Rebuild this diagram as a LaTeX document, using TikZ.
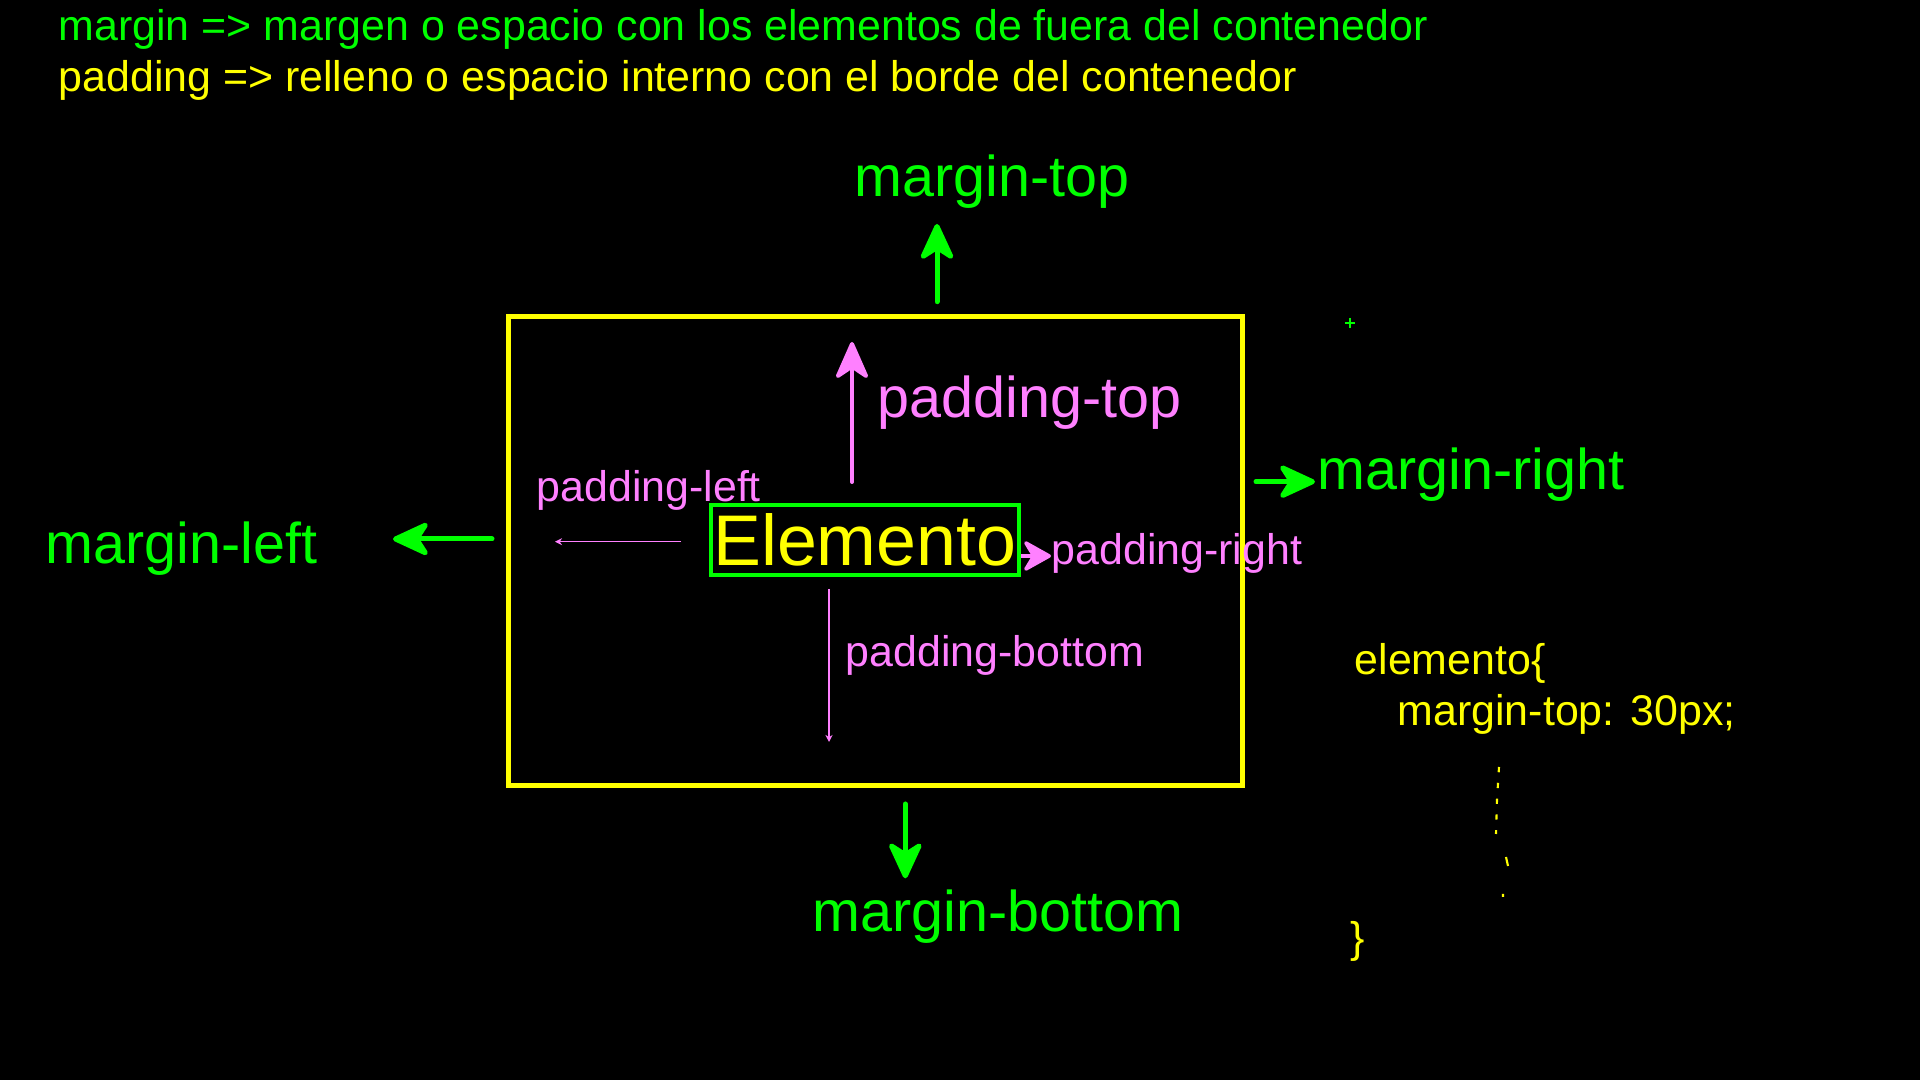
\documentclass[tikz,border=0pt]{standalone}
\usepackage{fontspec}
\setmainfont{Liberation Sans}
\usetikzlibrary{arrows.meta}
\definecolor{verde}{RGB}{0,255,0}
\definecolor{amarillo}{RGB}{255,255,0}
\definecolor{rosa}{RGB}{255,128,255}
\newcommand{\grande}{\fontsize{16.35}{19}\selectfont}
\newcommand{\mediano}{\fontsize{12.2}{14}\selectfont}

\begin{document}
\begin{tikzpicture}[x=0.01cm,y=-0.01cm,
    txt/.style={anchor=base west,inner sep=0pt},
    flechaM/.style={verde,line width=1.42pt,line cap=round,-{Stealth[length=12pt,width=11pt,inset=3.5pt,round]}},
    flechaP/.style={rosa,line width=1.14pt,line cap=round,-{Stealth[length=12pt,width=10.5pt,inset=3.5pt,round]}},
    flechita/.style={rosa,line width=0.45pt,-{Stealth[length=2pt,width=2pt]}}]
    \fill[black] (0,0) rectangle (1920,1080);
    % definiciones
    \node[txt,verde,font=\mediano] (defmargin) at (58,40.7) {margin => margen o espacio con los elementos de fuera del contenedor};
    \node[txt,amarillo,font=\mediano] (defpadding) at (58,91.7) {padding => relleno o espacio interno con el borde del contenedor};
    % caja
    \node[draw=amarillo,line width=1.42pt,minimum width=7.33cm,minimum height=4.68cm,inner sep=0pt] (contenedor) at (875.5,551) {};
    \node[draw=verde,text=amarillo,line width=1.14pt,font=\fontsize{20.4}{24}\selectfont,minimum width=3.075cm,minimum height=0.70cm,inner sep=0pt] (elemento) at (864.8,540) {Elemento};
    % margin
    \node[txt,verde,font=\grande] (mtop) at (854,196.7) {margin-top};
    \node[txt,verde,font=\grande] (mleft) at (45,563.3) {margin-left};
    \node[txt,verde,font=\grande] (mright) at (1317,490) {margin-right};
    \node[txt,verde,font=\grande] (mbottom) at (812,931.7) {margin-bottom};
    \coordinate (mt0) at (937,301.7); \coordinate (mt1) at (937,224);
    \coordinate (ml0) at (492,539); \coordinate (ml1) at (393,539);
    \coordinate (mr0) at (1256,481.7); \coordinate (mr1) at (1315,481.7);
    \coordinate (mb0) at (905.3,804); \coordinate (mb1) at (905.3,878.3);
    \draw[flechaM] (mt0) -- (mt1);
    \draw[flechaM] (ml0) -- (ml1);
    \draw[flechaM] (mr0) -- (mr1);
    \draw[flechaM] (mb0) -- (mb1);
    % padding
    \node[txt,rosa,font=\grande] (ptop) at (877,418) {padding-top};
    \node[txt,rosa,font=\mediano] (pleft) at (536,502) {padding-left};
    \node[txt,rosa,font=\mediano] (pright) at (1051,565) {padding-right};
    \node[txt,rosa,font=\mediano] (pbottom) at (845,667) {padding-bottom};
    \coordinate (pt0) at (852,482); \coordinate (pt1) at (852,342);
    \coordinate (pl0) at (681,541.7); \coordinate (pl1) at (555,541.7);
    \coordinate (pr0) at (1021,556); \coordinate (pr1) at (1051,556);
    \coordinate (pb0) at (829,589); \coordinate (pb1) at (829,742);
    \draw[flechaP] (pt0) -- (pt1);
    \draw[rosa,line width=1pt,-{Stealth[length=9pt,width=10pt,inset=3pt,round]}] (pr0) -- (pr1);
    \draw[flechita] (pl0) -- (pl1);
    \draw[flechita] (pb0) -- (pb1);
    % css
    \node[txt,amarillo,font=\mediano] (css1) at (1354,675) {elemento\{};
    \node[txt,amarillo,font=\mediano] (css2) at (1397,725.7) {margin-top: 30px;};
    \node[txt,amarillo,font=\mediano] (css3) at (1350,952.7) {\}};
    \draw[amarillo,line width=0.6pt,dash pattern=on 1.5pt off 3pt] (1499,767) -- (1497,800) -- (1496,834);
    \draw[amarillo,line width=0.6pt] (1506,857) -- (1508,866) (1503,894) -- (1503,897);
    \draw[verde,line width=0.8pt] (1345,323) -- (1355,323) (1350,318) -- (1350,328);
\end{tikzpicture}
\end{document}
